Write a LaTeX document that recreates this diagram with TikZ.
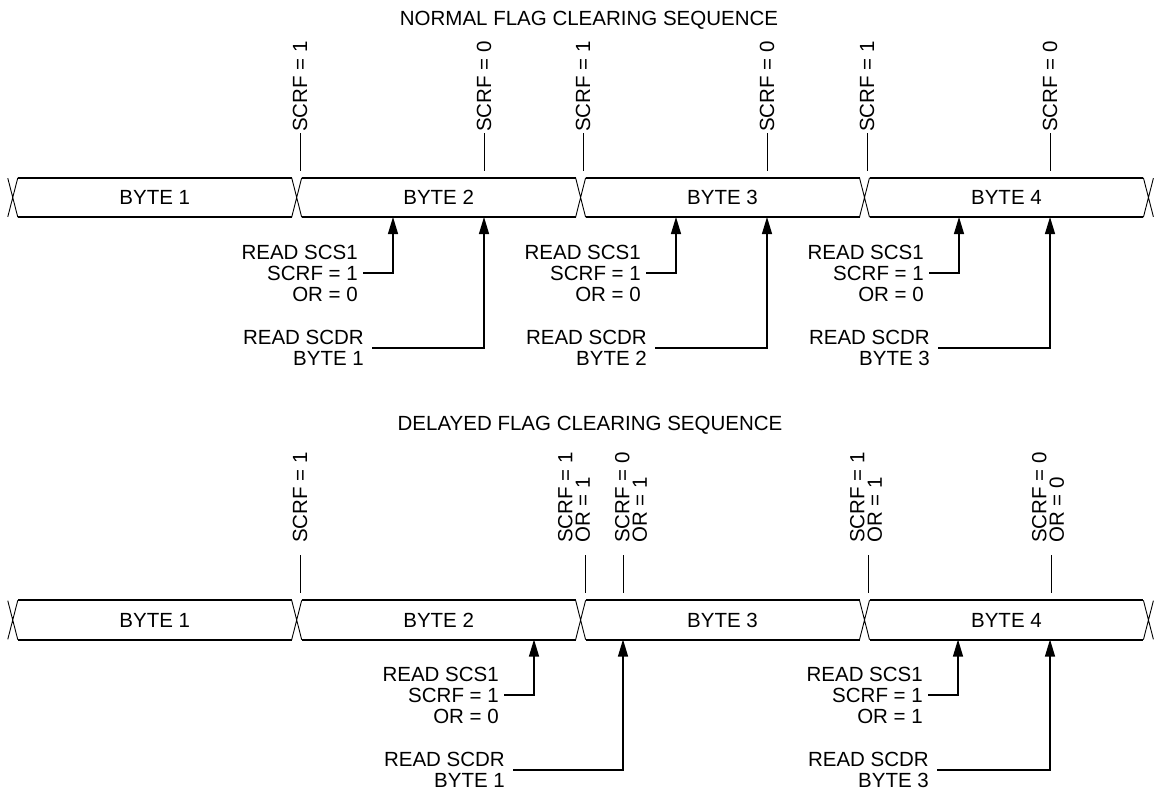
\documentclass[tikz,border=0pt]{standalone}
\usepackage{fontspec}
\setmainfont{Liberation Sans}
\usetikzlibrary{positioning,arrows.meta}

\tikzset{
  bytebox/.style={minimum width=273.5pt, minimum height=39pt, inner sep=0pt},
  bus/.style={line width=1.8pt},
  cross/.style={line width=0.9pt},
  flag/.style={rotate=90, anchor=west, inner sep=0pt, align=left,
    font=\fontsize{20.5}{17.5}\selectfont},
  tick/.style={line width=0.9pt},
  note/.style={anchor=east, inner sep=0pt, align=right},
  arr/.style={line width=1.2pt, -{Triangle[length=17pt,width=10pt]}},
}

\begin{document}
\begin{tikzpicture}[x=1pt,y=-1pt,font=\fontsize{20.5}{21}\selectfont]
    \useasboundingbox (0,0) rectangle (1159,804);

    % normal sequence
    \node (nTitle) at (589,20) {NORMAL FLAG CLEARING SEQUENCE};
    \node (nByte1) [bytebox] at (154.75,197.5) {BYTE 1};
    \node (nByte2) [bytebox, right=10pt of nByte1] {BYTE 2};
    \node (nByte3) [bytebox, right=10pt of nByte2] {BYTE 3};
    \node (nByte4) [bytebox, right=10pt of nByte3] {BYTE 4};

    \foreach \b in {nByte1,nByte2,nByte3,nByte4}
      \draw[bus] (\b.north west) -- (\b.north east) (\b.south west) -- (\b.south east);
    \foreach \l/\r in {nByte1/nByte2,nByte2/nByte3,nByte3/nByte4}
      \draw[cross] (\l.north east) -- (\r.south west) (\l.south east) -- (\r.north west);
    \draw[cross] (nByte1.north west) -- ++(-10,39) (nByte1.south west) -- ++(-10,-39);
    \draw[cross] (nByte4.north east) -- ++(10,39) (nByte4.south east) -- ++(10,-39);

    \foreach \x/\v in {300/1,484/0,583/1,767/0,867/1,1050/0} {
      \node (nFlag\x) [flag] at (\x,132) {SCRF = \v};
      \draw[tick] (\x,133) -- (\x,171);
    }

    \node (nScs1) [note] at (358,273) {READ SCS1\\SCRF = 1\\OR = 0};
    \node (nScdr1) [note] at (364,348) {READ SCDR\\BYTE 1};
    \node (nScs2) [note] at (641,273) {READ SCS1\\SCRF = 1\\OR = 0};
    \node (nScdr2) [note] at (647,348) {READ SCDR\\BYTE 2};
    \node (nScs3) [note] at (924,273) {READ SCS1\\SCRF = 1\\OR = 0};
    \node (nScdr3) [note] at (930,348) {READ SCDR\\BYTE 3};

    \coordinate (nTip1) at (393,217);
    \coordinate (nTip2) at (484,217);
    \coordinate (nTip3) at (676,217);
    \coordinate (nTip4) at (767,217);
    \coordinate (nTip5) at (959,217);
    \coordinate (nTip6) at (1050,217);

    \draw[arr] ([xshift=5pt]nScs1.east) -| (nTip1);
    \draw[arr] ([xshift=8pt]nScdr1.east) -| (nTip2);
    \draw[arr] ([xshift=5pt]nScs2.east) -| (nTip3);
    \draw[arr] ([xshift=8pt]nScdr2.east) -| (nTip4);
    \draw[arr] ([xshift=5pt]nScs3.east) -| (nTip5);
    \draw[arr] ([xshift=8pt]nScdr3.east) -| (nTip6);

    % delayed sequence
    \node (dTitle) at (590,425) {DELAYED FLAG CLEARING SEQUENCE};
    \node (dByte1) [bytebox] at (154.75,620) {BYTE 1};
    \node (dByte2) [bytebox, right=10pt of dByte1] {BYTE 2};
    \node (dByte3) [bytebox, right=10pt of dByte2] {BYTE 3};
    \node (dByte4) [bytebox, right=10pt of dByte3] {BYTE 4};

    \foreach \b in {dByte1,dByte2,dByte3,dByte4}
      \draw[bus] (\b.north west) -- (\b.north east) (\b.south west) -- (\b.south east);
    \foreach \l/\r in {dByte1/dByte2,dByte2/dByte3,dByte3/dByte4}
      \draw[cross] (\l.north east) -- (\r.south west) (\l.south east) -- (\r.north west);
    \draw[cross] (dByte1.north west) -- ++(-10,39) (dByte1.south west) -- ++(-10,-39);
    \draw[cross] (dByte4.north east) -- ++(10,39) (dByte4.south east) -- ++(10,-39);

    \node (dFlag1) [flag] at (300,543) {SCRF = 1};
    \node (dFlag2) [flag] at (574,543) {SCRF = 1\\OR = 1};
    \node (dFlag3) [flag] at (631,543) {SCRF = 0\\OR = 1};
    \node (dFlag4) [flag] at (866,543) {SCRF = 1\\OR = 1};
    \node (dFlag5) [flag] at (1048,543) {SCRF = 0\\OR = 0};
    \foreach \x in {300,585,623,868,1051}
      \draw[tick] (\x,555) -- (\x,593);

    \node (dScs1) [note] at (499,695) {READ SCS1\\SCRF = 1\\OR = 0};
    \node (dScdr1) [note] at (505,770) {READ SCDR\\BYTE 1};
    \node (dScs2) [note] at (923,695) {READ SCS1\\SCRF = 1\\OR = 1};
    \node (dScdr2) [note] at (929,770) {READ SCDR\\BYTE 3};

    \coordinate (dTip1) at (534,639.5);
    \coordinate (dTip2) at (623,639.5);
    \coordinate (dTip3) at (958,639.5);
    \coordinate (dTip4) at (1050,639.5);

    \draw[arr] ([xshift=5pt]dScs1.east) -| (dTip1);
    \draw[arr] ([xshift=8pt]dScdr1.east) -| (dTip2);
    \draw[arr] ([xshift=5pt]dScs2.east) -| (dTip3);
    \draw[arr] ([xshift=8pt]dScdr2.east) -| (dTip4);
\end{tikzpicture}
\end{document}
